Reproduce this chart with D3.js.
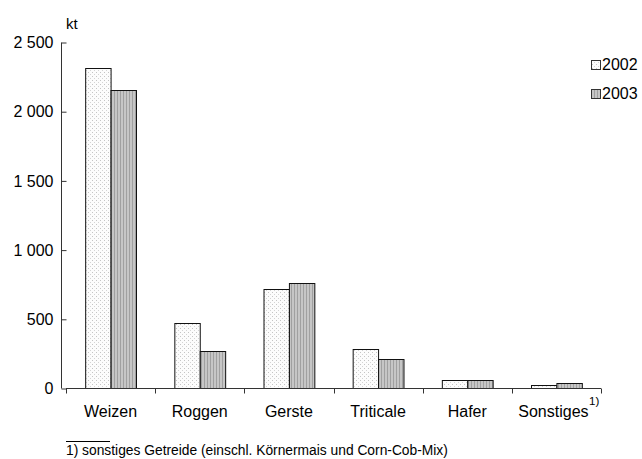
<!DOCTYPE html>
<html><head><meta charset="utf-8">
<script src="https://cdn.jsdelivr.net/npm/d3@7"></script>
<style>body{margin:0;background:#fff}svg{display:block;font-family:"Liberation Sans",Arial,sans-serif}</style>
</head><body><svg id="c" width="642" height="459"></svg>
<script>
const categories = ["Weizen","Roggen","Gerste","Triticale","Hafer","Sonstiges"];
const seriesNames = ["2002","2003"];
const values2002 = [2310, 467, 713, 280, 56, 19];
const values2003 = [2151, 265, 761, 207, 57, 36];
const yTicks = [0, 500, 1000, 1500, 2000, 2500];
const yTickLabels = ["0","500","1 000","1 500","2 000","2 500"];
const unitLabel = "kt";
const footnote = "1) sonstiges Getreide (einschl. Körnermais und Corn-Cob-Mix)";

const svg = d3.select("#c");
const defs = svg.append("defs");
const p1 = defs.append("pattern").attr("id","p2002").attr("width",4).attr("height",4).attr("patternUnits","userSpaceOnUse");
p1.append("rect").attr("width",4).attr("height",4).attr("fill","#fcfcfc");
p1.append("rect").attr("x",0).attr("y",0).attr("width",1).attr("height",1).attr("fill","#c4c4c4");
p1.append("rect").attr("x",2).attr("y",2).attr("width",1).attr("height",1).attr("fill","#d4d4d4");
const p2 = defs.append("pattern").attr("id","p2003").attr("width",3).attr("height",3).attr("patternUnits","userSpaceOnUse");
p2.append("rect").attr("width",3).attr("height",3).attr("fill","#c6c6c6");
p2.append("rect").attr("x",0).attr("width",1).attr("height",3).attr("fill","#a0a0a0");

const x = d3.scaleBand().domain(categories).range([66, 601]).paddingInner(0.43).paddingOuter(0.215);
const xs = d3.scaleBand().domain(seriesNames).range([0, x.bandwidth()]);
const y = d3.scaleLinear().domain([0, 2500]).range([388, 42]);

const data = categories.map((c,i)=>({c, v:[values2002[i], values2003[i]]}));
const fills = ["url(#p2002)","url(#p2003)"];

const g = svg.append("g");
data.forEach(d=>{
  d.v.forEach((v,j)=>{
    g.append("rect")
      .attr("x", x(d.c)+xs(seriesNames[j])+0.5)
      .attr("y", Math.round(y(v))+0.5)
      .attr("width", xs.bandwidth())
      .attr("height", y(0)-Math.round(y(v)))
      .attr("fill", fills[j]).attr("stroke","#111").attr("stroke-width",1);
  });
});

// y axis
const yAxis = d3.axisLeft(y).tickValues(yTicks).tickFormat((d,i)=>yTickLabels[i]).tickSize(5).tickPadding(8);
const ya = svg.append("g").attr("transform","translate(66.5,0.5)").call(yAxis);
ya.select(".domain").attr("stroke","#333").attr("d","M-5,42V388");
ya.selectAll(".tick line").attr("stroke","#333");
ya.selectAll("text").attr("font-size",16).attr("fill","#000").attr("font-family","Liberation Sans, Arial, sans-serif");

// x axis with ticks at band boundaries
const xa = svg.append("g").attr("transform","translate(0,388.5)");
xa.append("line").attr("x1",66).attr("x2",601).attr("stroke","#333");
const bounds = categories.map(c=>x(c)-x.step()*x.paddingInner()/2).concat([601]);
xa.selectAll("line.t").data(bounds).join("line").attr("class","t")
  .attr("x1",d=>Math.round(d)+0.5).attr("x2",d=>Math.round(d)+0.5).attr("y1",0).attr("y2",5).attr("stroke","#333");
xa.selectAll("text").data(categories).join("text")
  .attr("x",c=>x(c)+x.bandwidth()/2 - (c==="Sonstiges"?3:0)).attr("y",28).attr("text-anchor","middle")
  .attr("font-size",16).text(c=>c);
svg.append("text").attr("x",589).attr("y",405).attr("font-size",11.5).text("1)");

svg.append("text").attr("x",66).attr("y",29).attr("font-size",15).text(unitLabel);

// legend
const lg = svg.append("g");
seriesNames.forEach((s,i)=>{
  lg.append("rect").attr("x",591.5).attr("y",60.5+i*29).attr("width",9).attr("height",9)
    .attr("fill",fills[i]).attr("stroke","#333");
  lg.append("text").attr("x",602).attr("y",70+i*29).attr("font-size",16).text(s);
});

// footnote
svg.append("line").attr("x1",66).attr("x2",110).attr("y1",441.5).attr("y2",441.5).attr("stroke","#000");
svg.append("text").attr("x",66).attr("y",455).attr("font-size",13.8).text(footnote);
</script></body></html>
